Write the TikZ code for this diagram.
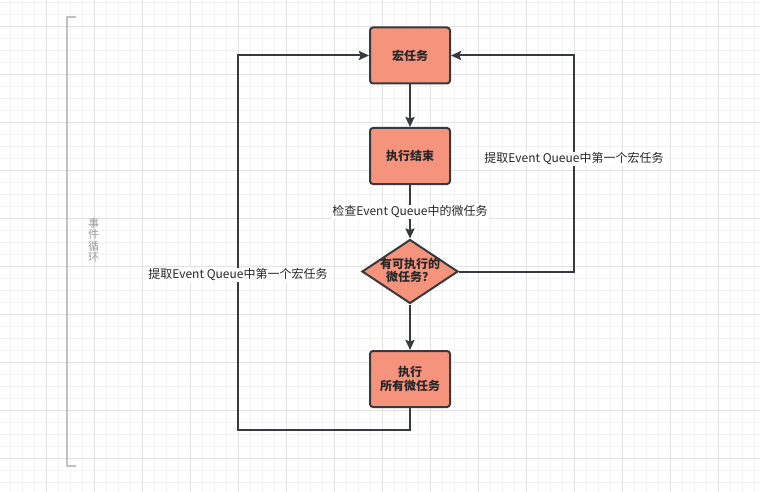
\documentclass[tikz,border=0pt]{standalone}
\usepackage{fontspec}
\setmainfont{Noto Sans CJK SC}
\usetikzlibrary{shapes.geometric,arrows.meta}
\definecolor{boxfill}{RGB}{245,147,124}
\definecolor{boxline}{RGB}{54,57,61}
\definecolor{txt}{RGB}{40,40,40}
\definecolor{gridminor}{RGB}{242,242,242}
\definecolor{gridmajor}{RGB}{226,226,226}
\definecolor{brk}{RGB}{192,192,192}
\tikzset{
  taskbox/.style={draw=boxline, fill=boxfill, line width=2pt, rounded corners=3pt,
    minimum width=80pt, minimum height=56pt, inner sep=0pt, align=center,
    font=\fontsize{12}{13.5}\selectfont\bfseries, text=txt},
  decbox/.style={draw=boxline, fill=boxfill, line width=2pt, diamond,
    minimum width=96pt, minimum height=64pt, inner sep=0pt},
  dectext/.style={align=center, font=\fontsize{12}{12.5}\selectfont\bfseries, text=txt, inner sep=0pt},
  conn/.style={draw=boxline, line width=2pt, -{Stealth[length=10pt,width=9pt,inset=1.5pt]}},
  edgelabel/.style={fill=white, inner sep=1pt, font=\fontsize{12}{13}\selectfont, text=txt},
  sidelabel/.style={align=center, font=\fontsize{11}{11.5}\selectfont, text=brk!80!black, inner sep=0pt},
}
\begin{document}
\begin{tikzpicture}[x=1pt,y=-1pt]
\useasboundingbox (0,0) rectangle (760,492);
\fill[white] (0,0) rectangle (760,492);
% grid
\foreach \i in {0,...,62} {\draw[gridminor, line width=1pt] (10.3+12*\i,0) -- (10.3+12*\i,492);}
\foreach \j in {0,...,41} {\draw[gridminor, line width=1pt] (0,2.3+12*\j) -- (760,2.3+12*\j);}
\foreach \i in {0,...,15} {\draw[gridmajor, line width=1pt] (46.3+48*\i,0) -- (46.3+48*\i,492);}
\foreach \j in {0,...,9} {\draw[gridmajor, line width=1pt] (0,26.3+48*\j) -- (760,26.3+48*\j);}
% bracket
\draw[brk, line width=2pt] (76,17.5) -- (66.7,17.5) -- (66.7,465.5) -- (76,465.5);
\node[sidelabel] (side) at (93.5,240.5) {事\\件\\循\\环};
% nodes
\node[taskbox] (b1) at (410,55.5) {宏任务};
\node[taskbox] (b2) at (410,156) {执行结束};
\node[decbox] (dia) at (410,271.5) {};
\node[dectext] (diat) at (410,270.5) {有可执行的\\微任务？};
\node[taskbox] (b3) at (410,379) {执行\\所有微任务};
\coordinate (cl) at (238,430);
\coordinate (cr) at (574,55.5);
% connectors
\draw[conn] (b1) -- (b2);
\draw[conn] (b2) -- node[edgelabel, pos=0.5] (lm) {检查Event Queue中的微任务} (dia);
\draw[conn] (dia) -- (b3);
\draw[conn] (b3.south) |- (cl) |- (b1.west);
\draw[conn] (dia.east) -| (cr) -- (b1.east);
\node[edgelabel] (ll) at (238,275) {提取Event Queue中第一个宏任务};
\node[edgelabel] (lr) at (574,159) {提取Event Queue中第一个宏任务};
\end{tikzpicture}
\end{document}
